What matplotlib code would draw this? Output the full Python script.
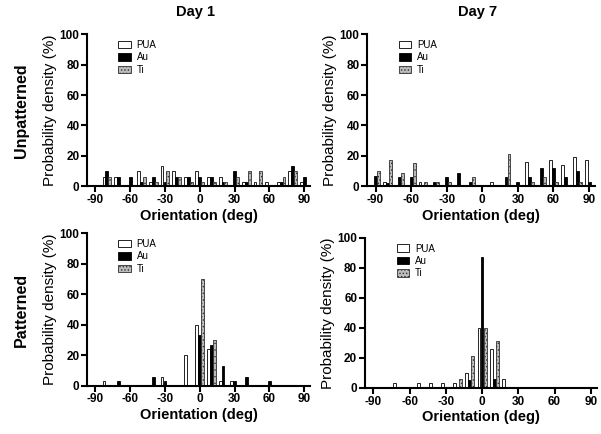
import numpy as np
import matplotlib
matplotlib.use("Agg")
import matplotlib.pyplot as plt

plt.rcParams['font.family'] = ['Liberation Sans', 'DejaVu Sans']
plt.rcParams['hatch.linewidth'] = 0.6

bins = [-90, -80, -70, -60, -50, -40, -30, -20, -10, 0, 10, 20, 30, 40, 50, 60, 70, 80, 90]
series = ["PUA", "Au", "Ti"]

# Unpatterned, Day 1
u1_pua = [0, 6, 6, 0, 10, 3, 13, 10, 6, 10, 6, 6, 0, 3, 3, 3, 3, 10, 3]
u1_au  = [0, 10, 6, 6, 3, 6, 3, 6, 6, 6, 6, 3, 10, 3, 0, 0, 3, 13, 6]
u1_ti  = [0, 6, 0, 0, 6, 3, 10, 6, 3, 3, 3, 3, 6, 10, 10, 0, 6, 10, 0]
# Unpatterned, Day 7
u7_pua = [0, 3, 0, 0, 3, 0, 0, 0, 0, 0, 3, 0, 0, 16, 0, 17, 14, 19, 17]
u7_au  = [7, 2, 6, 6, 0, 3, 6, 9, 3, 0, 0, 6, 3, 6, 12, 12, 6, 10, 3]
u7_ti  = [10, 17, 9, 15, 3, 3, 3, 0, 6, 0, 0, 21, 0, 3, 6, 3, 0, 3, 0]
# Patterned, Day 1
p1_pua = [0, 3, 0, 0, 0, 0, 6, 0, 20, 40, 24, 3, 3, 0, 0, 0, 0, 0, 0]
p1_au  = [0, 0, 3, 0, 0, 6, 3, 0, 0, 33, 27, 13, 3, 6, 0, 3, 0, 0, 0]
p1_ti  = [0, 0, 0, 0, 0, 0, 0, 0, 0, 70, 30, 0, 0, 0, 0, 0, 0, 0, 0]
# Patterned, Day 7
p7_pua = [0, 0, 3, 0, 3, 3, 3, 3, 10, 40, 26, 6, 0, 0, 0, 0, 0, 0, 0]
p7_au  = [0, 0, 0, 0, 0, 0, 0, 0, 5, 87, 6, 0, 0, 0, 0, 0, 0, 0, 0]
p7_ti  = [0, 0, 0, 0, 0, 0, 0, 6, 21, 40, 31, 0, 0, 0, 0, 0, 0, 0, 0]

xticks = [-90, -60, -30, 0, 30, 60, 90]
yticks = [0, 20, 40, 60, 80, 100]

fig = plt.figure(figsize=(6.01, 4.34), dpi=100)
positions = [
    [0.145, 0.571, 0.371, 0.350],
    [0.611, 0.571, 0.379, 0.350],
    [0.145, 0.111, 0.371, 0.352],
    [0.607, 0.106, 0.386, 0.346],
]
data = [(u1_pua, u1_au, u1_ti), (u7_pua, u7_au, u7_ti),
        (p1_pua, p1_au, p1_ti), (p7_pua, p7_au, p7_ti)]

styles = [dict(facecolor='white', edgecolor='black', hatch=None),
          dict(facecolor='black', edgecolor='black', hatch=None),
          dict(facecolor='#bdbdbd', edgecolor='#303030', hatch='.....')]
offsets = [-2.5, 0, 2.5]
w = 2.45
x = np.array(bins, dtype=float)

for pos, vals in zip(positions, data):
    ax = fig.add_axes(pos)
    for k, (v, st) in enumerate(zip(vals, styles)):
        ax.bar(x + offsets[k], v, width=w, linewidth=0.6, label=series[k], **st)
    ax.set_xlim(-97, 95)
    ax.set_ylim(0, 100)
    ax.set_xticks(xticks)
    ax.set_yticks(yticks)
    ax.set_xticklabels([str(t) for t in xticks], fontsize=8.5, fontweight='bold')
    ax.set_yticklabels([str(t) for t in yticks], fontsize=8.5, fontweight='bold')
    for s in ['top', 'right']:
        ax.spines[s].set_visible(False)
    for s in ['left', 'bottom']:
        ax.spines[s].set_linewidth(1.5)
    ax.tick_params(width=1.5, length=4, pad=1.5)
    ax.set_xlabel('Orientation (deg)', fontsize=10.5, fontweight='bold', labelpad=2)
    ax.set_ylabel('Probability density (%)', fontsize=11, labelpad=2)
    ax.legend(loc='upper left', bbox_to_anchor=(0.1, 1.02), frameon=False,
              fontsize=7, handlelength=1.3, handleheight=0.8, labelspacing=0.25,
              handletextpad=0.6)

fig.text(0.326, 0.972, 'Day 1', ha='center', va='center', fontsize=10.5, fontweight='bold')
fig.text(0.795, 0.972, 'Day 7', ha='center', va='center', fontsize=10.5, fontweight='bold')
fig.text(0.035, 0.745, 'Unpatterned', ha='center', va='center', rotation=90,
         fontsize=11.5, fontweight='bold')
fig.text(0.035, 0.285, 'Patterned', ha='center', va='center', rotation=90,
         fontsize=11.5, fontweight='bold')

fig.savefig('out.png', dpi=100)
